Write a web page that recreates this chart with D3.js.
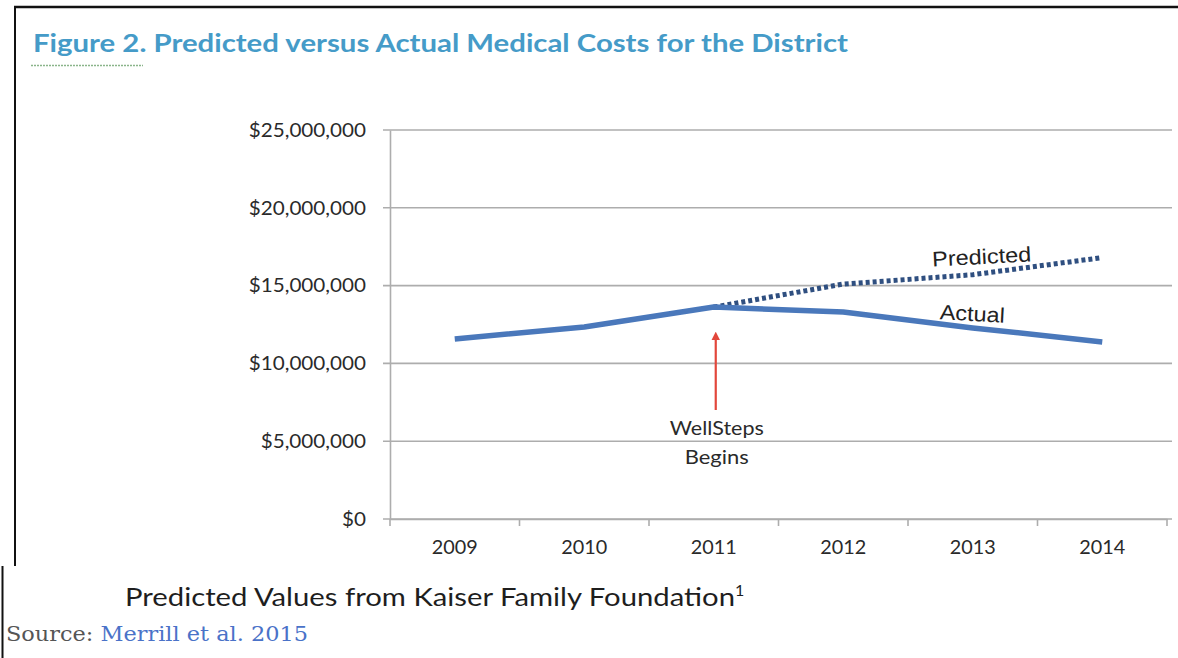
<!DOCTYPE html>
<html>
<head>
<meta charset="utf-8">
<script src="https://cdn.jsdelivr.net/npm/d3@7"></script>
<style>
  html, body { margin: 0; padding: 0; background: #fff; }
  svg { display: block; }
</style>
</head>
<body>
<svg id="chart" width="1178" height="658"></svg>
<script>
// Medical cost series for the district (USD)
const years = ["2009", "2010", "2011", "2012", "2013", "2014"];
const actualCosts = [11570000, 12340000, 13620000, 13300000, 12280000, 11380000];
const predictedYears = ["2011", "2012", "2013", "2014"];
const predictedCosts = [13620000, 15100000, 15700000, 16800000];
const yTicks = [0, 5000000, 10000000, 15000000, 20000000, 25000000];

const titleText = "Figure 2. Predicted versus Actual Medical Costs for the District";
const noteText = "Predicted Values from Kaiser Family Foundation";

const svg = d3.select("#chart");

// stretch a text element horizontally to a given width
function stretchTo(sel, target) {
  sel.attr("textLength", target).attr("lengthAdjust", "spacingAndGlyphs");
}

// frame lines
svg.append("line").attr("x1", 14).attr("x2", 1178).attr("y1", 7).attr("y2", 7)
  .attr("stroke", "#111").attr("stroke-width", 2.5);
svg.append("line").attr("x1", 15).attr("x2", 15).attr("y1", 6).attr("y2", 566)
  .attr("stroke", "#111").attr("stroke-width", 2);
svg.append("line").attr("x1", 2.5).attr("x2", 2.5).attr("y1", 566).attr("y2", 658)
  .attr("stroke", "#111").attr("stroke-width", 2);

// title
svg.append("text")
  .attr("x", 33).attr("y", 52)
  .attr("font-family", "Lato, sans-serif").attr("font-weight", "bold")
  .attr("font-size", 24.5).attr("fill", "#459bc8")
  .text(titleText)
  .call(stretchTo, 815);
svg.append("line").attr("x1", 31).attr("x2", 143).attr("y1", 65.5).attr("y2", 65.5)
  .attr("stroke", "#8ab58a").attr("stroke-width", 1.5).attr("stroke-dasharray", "2,1");

// scales
const x = d3.scaleBand().domain(years).range([390, 1167]).padding(0);
const y = d3.scaleLinear().domain([0, 25000000]).range([519, 130]);
const cx = d => x(d) + x.bandwidth() / 2;

// gridlines
svg.append("g").selectAll("line").data(yTicks).join("line")
  .attr("x1", 383).attr("x2", 1172)
  .attr("y1", d => y(d)).attr("y2", d => y(d))
  .attr("stroke", "#adadad").attr("stroke-width", 1.6);

// y axis
const yAxis = svg.append("g").attr("transform", "translate(390,0)")
  .call(d3.axisLeft(y).tickValues(yTicks).tickSize(0).tickPadding(24)
    .tickFormat(d => "$" + d3.format(",")(d)));
yAxis.select(".domain").attr("stroke", "#adadad").attr("stroke-width", 1.6);
yAxis.selectAll("text").attr("font-family", "Lato, sans-serif")
  .attr("font-size", 19.5).attr("fill", "#2a2a2a")
  .each(function () {
    const t = d3.select(this);
    const w = this.getComputedTextLength();
    t.attr("textLength", w * 1.06).attr("lengthAdjust", "spacingAndGlyphs");
  });

// x axis
const xAxis = svg.append("g").attr("transform", "translate(0,519)")
  .call(d3.axisBottom(x).tickSize(0).tickPadding(21));
xAxis.select(".domain").attr("stroke", "#adadad").attr("stroke-width", 1.6);
xAxis.selectAll("text").attr("font-family", "Lato, sans-serif")
  .attr("font-size", 19.5).attr("fill", "#2a2a2a")
  .attr("textLength", 46).attr("lengthAdjust", "spacingAndGlyphs");
// category boundary ticks
const bounds = years.map(d => x(d)).concat([x(years[years.length - 1]) + x.bandwidth()]);
svg.append("g").selectAll("line").data(bounds).join("line")
  .attr("x1", d => d).attr("x2", d => d).attr("y1", 519).attr("y2", 526)
  .attr("stroke", "#adadad").attr("stroke-width", 1.6);

// predicted (dotted)
const lineP = d3.line().x((d, i) => cx(predictedYears[i])).y(d => y(d));
svg.append("path").datum(predictedCosts)
  .attr("d", lineP)
  .attr("fill", "none").attr("stroke", "#2f4f80").attr("stroke-width", 5)
  .attr("stroke-dasharray", "4,3");

// actual (solid)
const lineA = d3.line().x((d, i) => cx(years[i])).y(d => y(d));
svg.append("path").datum(actualCosts)
  .attr("d", lineA)
  .attr("fill", "none").attr("stroke", "#4a78bb").attr("stroke-width", 5.5)
  .attr("stroke-linejoin", "round");

// series labels
svg.append("text")
  .attr("transform", "translate(982,264) rotate(-3)")
  .attr("text-anchor", "middle")
  .attr("font-family", "Liberation Sans, Arial, sans-serif")
  .attr("font-size", 21).attr("fill", "#222")
  .text("Predicted").call(stretchTo, 99);
svg.append("text")
  .attr("transform", "translate(972,321) rotate(3)")
  .attr("text-anchor", "middle")
  .attr("font-family", "Liberation Sans, Arial, sans-serif")
  .attr("font-size", 21).attr("fill", "#222")
  .text("Actual").call(stretchTo, 65);

// WellSteps annotation arrow
const ax = cx("2011") + 2;
svg.append("defs").append("marker")
  .attr("id", "arrowhead").attr("viewBox", "0 0 10 10")
  .attr("refX", 5).attr("refY", 5)
  .attr("markerWidth", 4).attr("markerHeight", 4)
  .attr("orient", "auto")
  .append("path").attr("d", "M0,0 L10,5 L0,10 z").attr("fill", "#e2473b");
svg.append("line")
  .attr("x1", ax).attr("x2", ax).attr("y1", 410).attr("y2", 336)
  .attr("stroke", "#e2473b").attr("stroke-width", 2.2)
  .attr("marker-end", "url(#arrowhead)");
svg.append("text").attr("x", ax + 1).attr("y", 435)
  .attr("text-anchor", "middle").attr("font-family", "Lato, sans-serif")
  .attr("font-size", 18.5).attr("fill", "#2a2a2a").text("WellSteps").call(stretchTo, 94);
svg.append("text").attr("x", ax + 1).attr("y", 464)
  .attr("text-anchor", "middle").attr("font-family", "Lato, sans-serif")
  .attr("font-size", 18.5).attr("fill", "#2a2a2a").text("Begins").call(stretchTo, 64);

// footnote
const note = svg.append("text")
  .attr("x", 125).attr("y", 606)
  .attr("font-family", "Lato, sans-serif")
  .attr("font-size", 25.5).attr("fill", "#1e1e1e");
note.append("tspan").text(noteText).attr("textLength", 610).attr("lengthAdjust", "spacingAndGlyphs");
note.append("tspan").attr("dy", -10).attr("font-size", 16).text("1");

// source line
const src = svg.append("text")
  .attr("x", 6).attr("y", 641)
  .attr("font-family", "DejaVu Serif, serif")
  .attr("font-size", 19.5)
  .attr("textLength", 302).attr("lengthAdjust", "spacingAndGlyphs");
src.append("tspan").attr("fill", "#555").text("Source: ");
src.append("tspan").attr("fill", "#4a72c8").text("Merrill et al. 2015");
</script>
</body>
</html>
